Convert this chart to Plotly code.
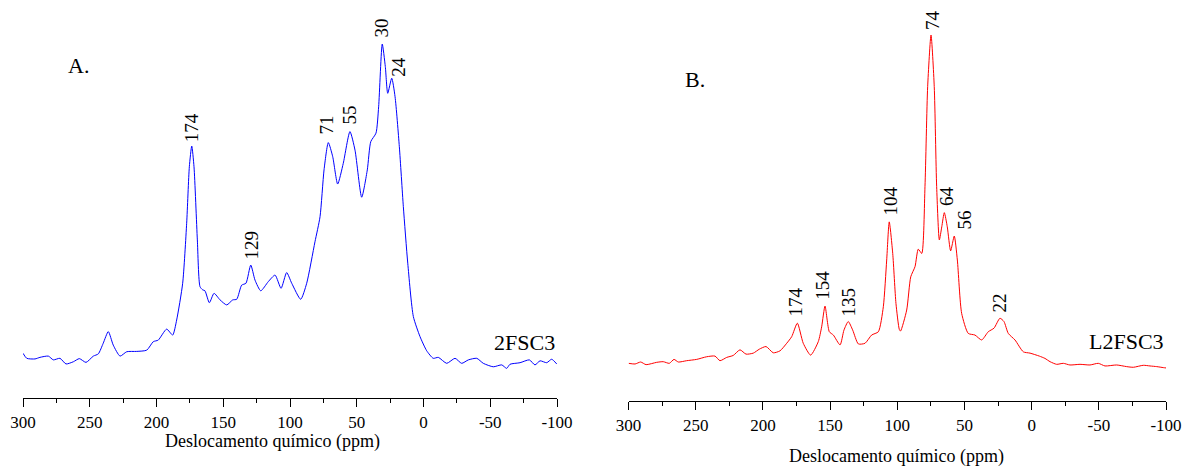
import plotly.graph_objects as go

# ---------------- data: spectrum A (2FSC3) ----------------
ppm_a = [300.0, 297.2, 291.0, 287.3, 281.0, 277.3, 272.3, 267.8, 262.3, 257.8, 252.8, 247.3,
         243.6, 239.9, 236.1, 232.4, 227.3, 222.3, 214.8, 207.3, 202.4, 198.7, 192.4, 187.9,
         184.9, 180.4, 177.4, 175.4, 173.6, 171.9, 169.4, 167.4, 165.4, 163.7, 160.4, 156.9,
         152.4, 147.4, 142.9, 139.9, 136.2, 133.0, 129.4, 126.2, 121.9, 116.3, 111.2, 106.7,
         102.5, 98.7, 92.0, 87.5, 81.3, 77.5, 74.5, 71.3, 68.0, 64.3, 60.1, 55.1, 51.3, 46.3,
         42.1, 39.5, 35.6, 33.6, 30.9, 28.6, 26.8, 23.8, 21.3, 18.1, 15.1, 11.8, 7.6, 2.6,
         -2.4, -7.3, -11.1, -17.4, -23.6, -28.6, -33.6, -39.9, -44.8, -52.3, -58.6, -62.3,
         -64.8, -72.3, -79.3, -83.5, -87.3, -92.3, -96.0, -99.8]
int_a = [1.5, -0.1, -0.3, 0.2, 0.6, -0.6, -0.1, -1.9, -1.2, -0.2, -1.4, 0.6,
         1.3, 4.7, 8.4, 4.1, 0.6, 2.0, 2.1, 2.5, 5.2, 5.7, 9.2, 7.3,
         12.1, 23.8, 42.9, 60.9, 67.5, 60.9, 37.6, 22.7, 21.7, 21.4, 17.6, 20.6,
         18.5, 16.9, 18.5, 18.7, 23.2, 23.8, 29.6, 24.8, 21.4, 24.3, 26.4, 22.2,
         27.2, 23.8, 18.7, 23.8, 37.0, 45.0, 59.9, 68.6, 64.1, 55.4, 62.0, 72.1, 66.2, 51.2,
         59.9, 68.9, 71.6, 80.0, 100.0, 92.8, 84.3, 89.1, 83.2, 67.3, 48.2, 30.2, 13.2, 6.8,
         2.3, -0.1, 0.2, -1.7, -0.1, -1.7, -0.6, -0.1, -1.7, -2.8, -2.2, -3.3,
         -2.0, -1.5, -0.6, -2.2, -0.9, -1.5, -0.4, -1.9]

# ---------------- data: spectrum B (L2FSC3) ----------------
ppm_b = [300.0, 295.2, 291.0, 287.0, 279.1, 274.2, 269.7, 266.2, 263.0, 256.8, 249.3, 241.9,
         235.7, 232.0, 227.0, 222.1, 217.1, 212.6, 207.2, 202.7, 197.7, 192.3, 187.3, 182.3,
         178.6, 174.4, 170.0, 164.5, 158.8, 156.3, 153.8, 150.6, 147.6, 142.6, 139.7, 136.5,
         133.2, 129.0, 124.0, 119.1, 114.1, 110.4, 107.9, 106.0, 103.4, 101.0, 98.5, 97.6,
         93.0, 90.0, 86.8, 84.4, 81.8, 79.4, 77.4, 74.9, 72.5, 70.7, 68.7, 66.9, 65.0, 62.8,
         60.3, 57.6, 55.3, 52.1, 47.2, 42.2, 37.2, 32.3, 28.0, 23.6, 20.6, 17.4, 12.4, 6.2,
         1.2, -5.7, -9.9, -13.7, -18.6, -23.6, -28.5, -36.0, -43.4, -49.6, -54.6, -63.3,
         -70.7, -75.7, -83.1, -88.1, -93.1, -98.0, -100.0]
int_b = [0.2, 0.0, 0.6, -0.2, 0.5, 0.7, 0.2, 1.4, 0.6, 1.0, 1.4, 2.2,
         2.4, 1.0, 2.0, 2.6, 4.3, 3.0, 3.3, 4.5, 5.3, 3.4, 4.0, 6.3,
         8.3, 12.4, 6.3, 2.7, 6.8, 11.3, 17.6, 9.8, 8.8, 5.8, 10.3, 12.9,
         10.3, 6.1, 6.3, 8.8, 9.8, 17.4, 31.6, 43.2, 33.6, 18.4, 10.5, 10.0,
         16.4, 26.5, 29.6, 34.9, 33.6, 53.9, 84.3, 100.0, 84.3, 53.9, 37.7, 41.7, 46.0, 41.7,
         34.4, 38.9, 31.6, 15.4, 9.3, 8.8, 7.3, 9.8, 10.9, 13.9, 12.9, 9.3, 7.3, 3.7,
         3.3, 2.4, 1.7, 0.7, -0.1, 0.2, -0.3, -0.1, -0.3, 0.2, -0.6, -0.3,
         -0.8, -1.0, -0.4, -0.6, -0.8, -1.1, -1.2]

# ---------------- peak labels ----------------
lab_a_text = ["174", "129", "71", "55", "30", "24"]
lab_a_ppm = [174.2, 129.2, 72.3, 55.1, 31.8, 18.4]
lab_a_int = [68.2, 30.6, 70.7, 73.9, 101.3, 88.9]

lab_b_text = ["174", "154", "135", "104", "74", "64", "56", "22"]
lab_b_ppm = [176.1, 155.3, 136.7, 105.4, 74.2, 63.7, 49.6, 24.3]
lab_b_int = [13.7, 18.8, 14.0, 44.4, 100.9, 47.4, 40.1, 14.9]

sample_names = ["2FSC3", "L2FSC3"]
panel_letters = ["A.", "B."]
x_title = "Deslocamento químico (ppm)"
x_ticks = [300, 250, 200, 150, 100, 50, 0, -50, -100]

FONT = "Liberation Serif"
W, H = 1186, 460   # page body has an 8 px margin
OFF = 8


def px(x):
    return (x - OFF) / W


def py(y):
    return 1 - (y - OFF) / H


fig = go.Figure()
fig.add_trace(go.Scatter(x=ppm_a, y=int_a, mode="lines", xaxis="x", yaxis="y",
                         line=dict(color="#0000FF", width=1, shape="spline", smoothing=0.6)))
fig.add_trace(go.Scatter(x=ppm_b, y=int_b, mode="lines", xaxis="x2", yaxis="y2",
                         line=dict(color="#FF0000", width=1, shape="spline", smoothing=0.6)))

xcommon = dict(range=[300, -100], tickvals=x_ticks, ticktext=[str(v) for v in x_ticks],
               showline=True, linecolor="black", linewidth=1.3, ticks="outside", ticklen=8,
               tickwidth=1.3, tickcolor="black", showgrid=False, zeroline=False,
               automargin=False,
               tickfont=dict(family=FONT, size=17, color="black"),
               minor=dict(ticks="outside", ticklen=4, tickwidth=1.3, tickcolor="black",
                          dtick=25, tick0=0, showgrid=False))

fig.update_layout(
    width=W, height=H,
    margin=dict(l=0, r=0, t=0, b=0, pad=0),
    paper_bgcolor="white", plot_bgcolor="white", showlegend=False,
    xaxis=dict(domain=[px(23), px(557)], anchor="y", **xcommon),
    yaxis=dict(domain=[py(398), 1], range=[-12.74, (358 - OFF) / 3.14], visible=False,
               anchor="x", automargin=False),
    xaxis2=dict(domain=[px(628.6), px(1166)], anchor="y2", **xcommon),
    yaxis2=dict(domain=[py(401), 1], range=[-11.25, (364 - OFF) / 3.29], visible=False,
                anchor="x2", automargin=False),
)

ann = []
for t, xp, yp in zip(lab_a_text, lab_a_ppm, lab_a_int):
    ann.append(dict(x=xp, y=yp, xref="x", yref="y", text=t, textangle=-90, showarrow=False,
                    xanchor="center", yanchor="bottom", font=dict(family=FONT, size=19, color="black")))
for t, xp, yp in zip(lab_b_text, lab_b_ppm, lab_b_int):
    ann.append(dict(x=xp, y=yp, xref="x2", yref="y2", text=t, textangle=-90, showarrow=False,
                    xanchor="center", yanchor="bottom", font=dict(family=FONT, size=19, color="black")))

ann.append(dict(x=-100, y=5.0, xref="x", yref="y", text=sample_names[0], showarrow=False,
                xanchor="right", yanchor="middle", font=dict(family=FONT, size=22, color="black")))
ann.append(dict(x=-100, y=6.7, xref="x2", yref="y2", text=sample_names[1], showarrow=False,
                xanchor="right", yanchor="middle", font=dict(family=FONT, size=22, color="black")))

ann.append(dict(x=px(66), y=py(66), xref="paper", yref="paper", text=panel_letters[0],
                showarrow=False, xanchor="left", yanchor="middle",
                font=dict(family=FONT, size=22, color="black")))
ann.append(dict(x=px(683), y=py(79), xref="paper", yref="paper", text=panel_letters[1],
                showarrow=False, xanchor="left", yanchor="middle",
                font=dict(family=FONT, size=22, color="black")))

ann.append(dict(x=px(272), y=py(441), xref="paper", yref="paper", text=x_title,
                showarrow=False, xanchor="center", yanchor="middle",
                font=dict(family=FONT, size=18, color="black")))
ann.append(dict(x=px(896), y=py(456), xref="paper", yref="paper", text=x_title,
                showarrow=False, xanchor="center", yanchor="middle",
                font=dict(family=FONT, size=18, color="black")))

fig.update_layout(annotations=ann)
fig.write_html("out.html")
